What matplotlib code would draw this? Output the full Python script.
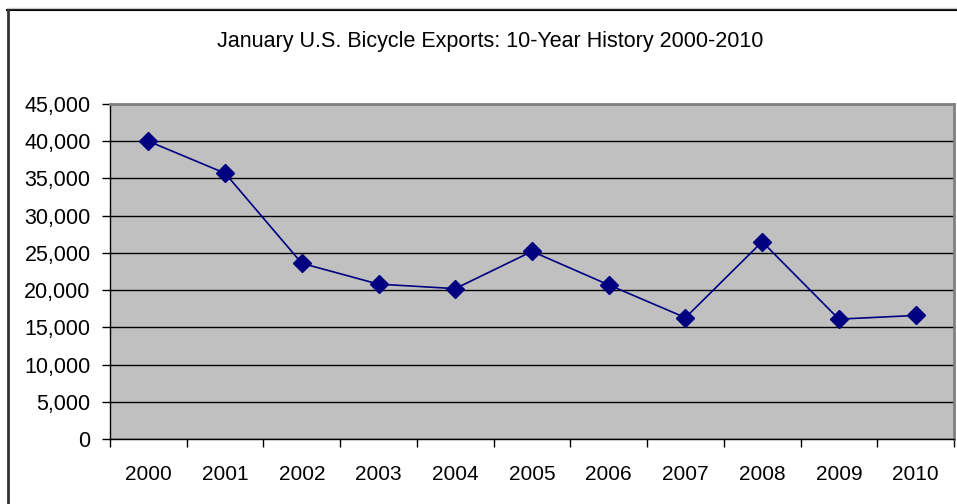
import matplotlib
matplotlib.use("Agg")
import matplotlib.pyplot as plt
from matplotlib.ticker import FuncFormatter, FixedLocator, MultipleLocator
from matplotlib.lines import Line2D

years = ["2000", "2001", "2002", "2003", "2004", "2005", "2006", "2007", "2008", "2009", "2010"]
exports = [40000, 35700, 23600, 20800, 20200, 25200, 20700, 16300, 26500, 16100, 16600]
title = "January U.S. Bicycle Exports: 10-Year History 2000-2010"

plt.rcParams["font.family"] = ["Liberation Sans", "DejaVu Sans"]

W, H = 957, 504
fig = plt.figure(figsize=(W / 100, H / 100), dpi=100)
fig.patch.set_facecolor("white")

# outer chart border
fig.add_artist(Line2D([7.5 / W, 1.0], [1 - 9.5 / H, 1 - 9.5 / H], transform=fig.transFigure, color="black", lw=1.5))
fig.add_artist(Line2D([7.5 / W, 1.0], [1 - 8 / H, 1 - 8 / H], transform=fig.transFigure, color="#c8c8c8", lw=1))
fig.add_artist(Line2D([8 / W, 8 / W], [0, 1 - 9.5 / H], transform=fig.transFigure, color="#333333", lw=2))

left, right, top, bottom = 110, 954, 104, 439
ax = fig.add_axes([left / W, 1 - bottom / H, (right - left) / W, (bottom - top) / H])
ax.set_facecolor("#c0c0c0")

x = list(range(len(years)))
ax.plot(x, exports, color="#000080", lw=1.2, marker="D", markersize=9,
        markerfacecolor="#000080", markeredgecolor="#000080", zorder=3)

ax.set_xlim(-0.5, len(years) - 0.5)
ax.set_ylim(0, 45000)
ax.yaxis.set_major_locator(MultipleLocator(5000))
ax.yaxis.set_major_formatter(FuncFormatter(lambda v, p: f"{int(v):,}"))
ax.grid(axis="y", color="black", lw=1)
ax.set_axisbelow(True)

ax.xaxis.set_major_locator(FixedLocator([i - 0.5 for i in range(len(years) + 1)]))
ax.xaxis.set_minor_locator(FixedLocator(x))
ax.set_xticklabels([""] * (len(years) + 1))
ax.set_xticklabels(years, minor=True)
ax.tick_params(axis="x", which="major", length=6, color="black", width=1)
ax.tick_params(axis="x", which="minor", length=0, pad=19, labelsize=15)
ax.tick_params(axis="y", length=6, width=1, color="black", labelsize=15.5, pad=8)

for s in ["left", "bottom"]:
    ax.spines[s].set_color("black")
    ax.spines[s].set_linewidth(1)
for s in ["top", "right"]:
    ax.spines[s].set_color("#808080")
    ax.spines[s].set_linewidth(2)

fig.text(490.5 / W, 1 - 46.7 / H, title, ha="center", va="baseline", fontsize=15.5)

fig.savefig("out.png", dpi=100)
